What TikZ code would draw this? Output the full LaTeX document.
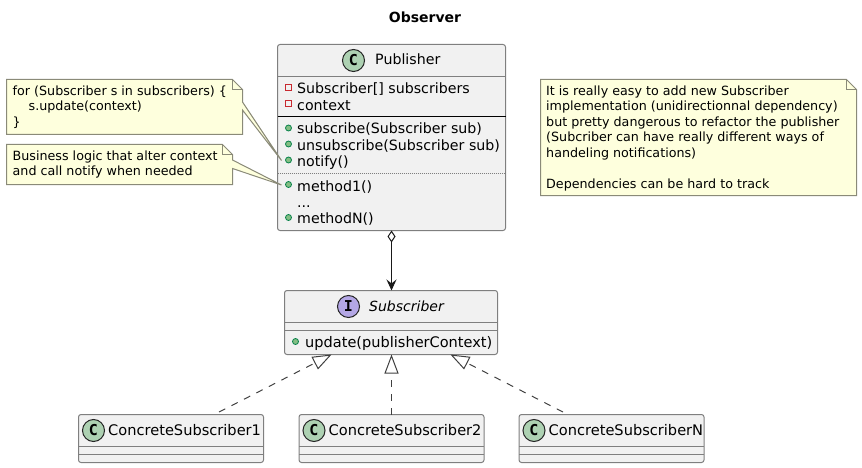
\documentclass[tikz,border=0pt]{standalone}
\usepackage{fontspec}
\setmainfont{DejaVu Sans}
\newfontfamily\spotfont{DejaVu Sans Mono}
\usetikzlibrary{arrows.meta,positioning}
\definecolor{boxfill}{HTML}{F1F1F1}
\definecolor{boxline}{HTML}{7F7F7F}
\definecolor{notefill}{HTML}{FEFFDD}
\definecolor{noteline}{HTML}{8A8A78}
\definecolor{spotC}{HTML}{ADD1B2}
\definecolor{spotI}{HTML}{B4A7E5}
\definecolor{pubfill}{HTML}{84BE84}
\definecolor{publine}{HTML}{038048}
\definecolor{privline}{HTML}{C82930}
\tikzset{
  classbox/.style={draw=boxline,fill=boxfill,line width=1pt,rounded corners=2.5pt,anchor=north west,inner sep=0pt,outer sep=0pt},
  sepline/.style={draw=boxline,line width=1pt},
  spot/.style={circle,draw=black!85,line width=1pt,inner sep=0pt,minimum size=22pt,font=\fontsize{15}{15}\spotfont\bfseries},
  member/.style={anchor=base west,inner sep=0pt,font=\fontsize{14.2}{16}\selectfont},
  pubmark/.style={circle,draw=publine,fill=pubfill,line width=0.8pt,inner sep=0pt,minimum size=6pt},
  privmark/.style={rectangle,draw=privline,line width=0.8pt,inner sep=0pt,minimum size=6pt},
  notebox/.style={draw=noteline,fill=notefill,line width=1pt},
  notetext/.style={anchor=north west,inner sep=0pt,align=left,font=\fontsize{12.7}{15.5}\selectfont},
  realize/.style={draw=black!75,line width=1pt,dash pattern=on 7pt off 7pt,-{Triangle[open,length=19pt,width=14pt,line width=1pt]}},
  aggregate/.style={draw=black!90,line width=1pt,{Diamond[open,length=12pt,width=8pt,line width=1pt]}-{Stealth[length=11pt,width=10pt,inset=4pt]}}
}
\begin{document}
\begin{tikzpicture}[x=1pt,y=-1pt]
\useasboundingbox (0,0) rectangle (862,468);
\node[anchor=base,inner sep=0pt,font=\fontsize{14}{16}\selectfont\bfseries] (title) at (425,23) {Observer};
% classes
\node[classbox,minimum width=228pt,minimum height=186pt] (publisher) at (277.5,44.5) {};
\draw[sepline] (277.5,76.5) -- (505.5,76.5);
\draw[line width=1pt,black] (277.5,116.5) -- (505.5,116.5);
\draw[sepline,densely dotted,line width=0.8pt] (277.5,173.5) -- (505.5,173.5);
\node[spot,fill=spotC] (pubspot) at (353.5,60.5) {C};
\node[member] (pubname) at (375,65) {Publisher};
\foreach \y/\txt/\nm in {93.5/Subscriber[] subscribers/a,110.5/context/b}
  \node[member] (attr\nm) at (297,\y) {\txt};
\node[privmark] (mark1) at (288.5,87.5) {};
\node[privmark] (mark2) at (288.5,103.5) {};
\foreach \y/\txt/\nm in {134/subscribe(Subscriber sub)/a,150/unsubscribe(Subscriber sub)/b,166/notify()/c,191/method1()/d,223/methodN()/f}
  \node[member] (meth\nm) at (297,\y) {\txt};
\node[member] (methe) at (297,207) {...};
\foreach \y/\nm in {128/a,144/b,160/c,184.5/d,217.5/f}
  \node[pubmark] (pub\nm) at (288.5,\y) {};
\node[classbox,minimum width=213pt,minimum height=64pt] (subscriber) at (284.5,290.5) {};
\draw[sepline] (284.5,322.5) -- (497.5,322.5);
\draw[sepline] (284.5,330.5) -- (497.5,330.5);
\node[spot,fill=spotI] (subspot) at (348.5,306.5) {I};
\node[member,font=\fontsize{14}{16}\selectfont\itshape] (subname) at (369,311) {Subscriber};
\node[pubmark] (pubu) at (295.5,341.5) {};
\node[member,font=\fontsize{14.55}{16}\selectfont] (methu) at (305,347) {update(publisherContext)};
\foreach \x/\i in {78.5/1,299/2,519/N}{
  \node[classbox,minimum width=185pt,minimum height=48pt] (concrete\i) at (\x,414.5) {};
  \draw[sepline] (\x,446.5) -- (\x+185,446.5);
  \draw[sepline] (\x,454.5) -- (\x+185,454.5);
  \node[spot,fill=spotC] (spot\i) at (\x+15,430.5) {C};
  \node[member,font=\fontsize{14.6}{16}\selectfont] (name\i) at (\x+29.5,435) {ConcreteSubscriber\i};
}
% notes
\filldraw[notebox] (6.5,79.5) -- (232.5,79.5) -- (242.5,89.5) -- (242.5,102) -- (281.5,160.5) -- (242.5,110) -- (242.5,134.5) -- (6.5,134.5) -- cycle;
\draw[notebox,fill=none] (232.5,79.5) -- (232.5,89.5) -- (242.5,89.5);
\node[notetext] (loopnote) at (12.5,85.2) {for (Subscriber s in subscribers) \{\\\hspace*{16pt}s.update(context)\\\}};
\filldraw[notebox] (6.5,144.5) -- (222.5,144.5) -- (232.5,154.5) -- (232.5,160) -- (281.5,185) -- (232.5,168.5) -- (232.5,184.5) -- (6.5,184.5) -- cycle;
\draw[notebox,fill=none] (222.5,144.5) -- (222.5,154.5) -- (232.5,154.5);
\node[notetext] (logicnote) at (12.5,150.2) {Business logic that alter context\\and call notify when needed};
\filldraw[notebox] (540.5,79.5) -- (846.5,79.5) -- (856.5,89.5) -- (856.5,195.5) -- (540.5,195.5) -- cycle;
\draw[notebox,fill=none] (846.5,79.5) -- (846.5,89.5) -- (856.5,89.5);
\node[notetext] (mainnote) at (546,85.2) {It is really easy to add new Subscriber\\implementation (unidirectionnal dependency)\\but pretty dangerous to refactor the publisher\\(Subcriber can have really different ways of\\handeling notifications)\\[15.5pt]Dependencies can be hard to track};
% connectors
\coordinate (subleft) at (331.6,354.5);
\coordinate (subright) at (450.4,354.5);
\coordinate (top1) at (219,412);
\coordinate (topN) at (563,412);
\draw[aggregate] (publisher.south) -- (publisher.south |- subscriber.north);
\draw[realize] (top1) -- (subleft);
\draw[realize] (concrete2.north) -- (concrete2.north |- subscriber.south);
\draw[realize] (topN) -- (subright);
\end{tikzpicture}
\end{document}
